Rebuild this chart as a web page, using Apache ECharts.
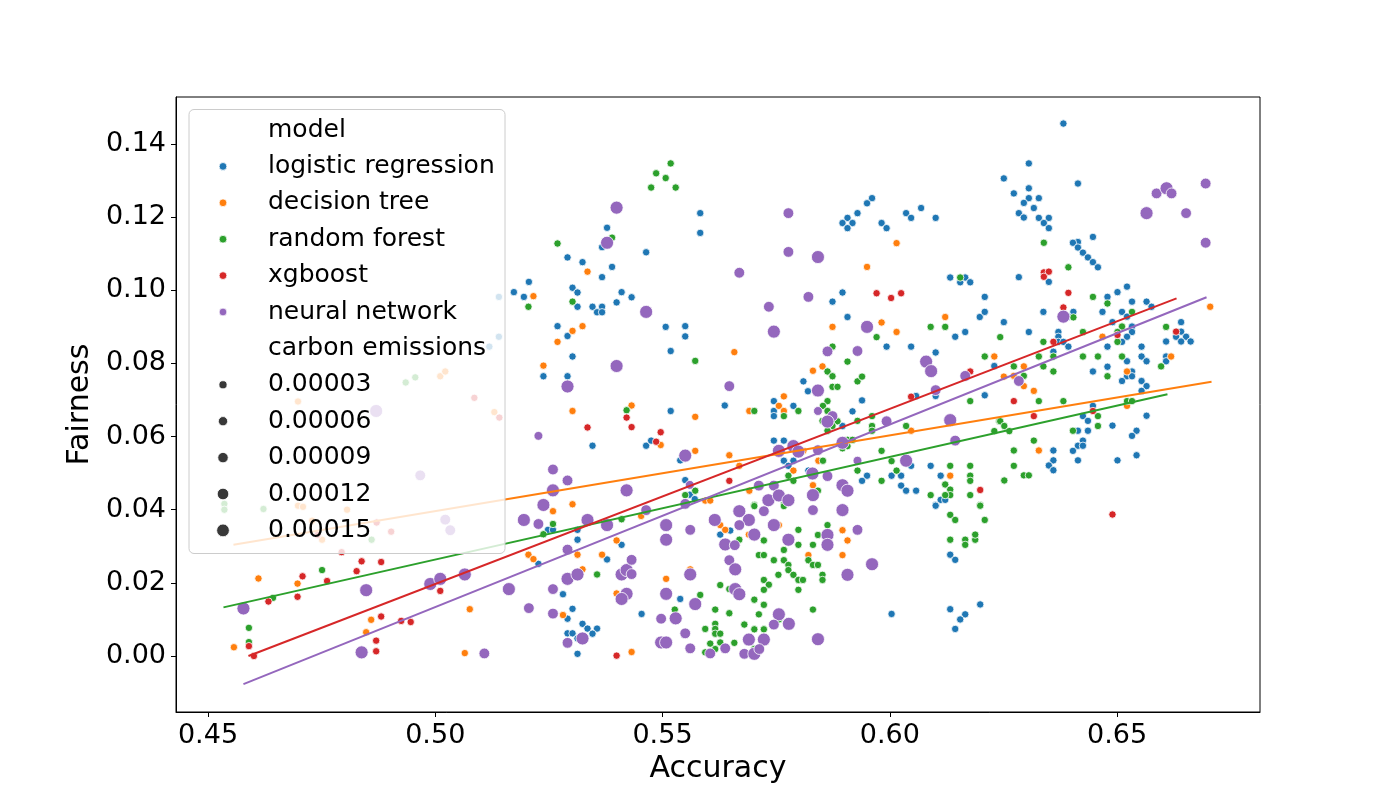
<!DOCTYPE html>
<html>
<head>
<meta charset="utf-8">
<title>Accuracy vs Fairness</title>
<script src="https://cdn.jsdelivr.net/npm/echarts@6/dist/echarts.min.js"></script>
<style>
  html, body { margin: 0; padding: 0; background: #fff; }
  #main { width: 1400px; height: 800px; }
</style>
</head>
<body>
<div id="main"></div>
<script>
// ---- data: [accuracy, fairness] ----
var logisticRegression = [
  [0.5583,0.1211],[0.5583,0.1157],[0.5378,0.1171],[0.5367,0.1118],[0.5464,0.1104],[0.5291,0.1090],[0.5324,0.1077],[0.5389,0.1064],[0.5367,0.1036],[0.5206,0.1023],[0.5140,0.0982],[0.5173,0.0995],[0.5195,0.0982],[0.5302,0.1007],[0.5313,0.0994],[0.5410,0.0995],[0.5432,0.0981],
  [0.5961,0.1252],[0.5950,0.1238],[0.5929,0.1211],[0.5907,0.1198],[0.5896,0.1184],[0.5918,0.1184],[0.5907,0.1170],[0.5982,0.1184],[0.5993,0.1170],[0.6036,0.1211],[0.6047,0.1198],[0.6069,0.1225],[0.6101,0.1198],[0.6133,0.1035],[0.6155,0.1022],[0.6166,0.1035],[0.6177,0.1022],[0.6209,0.0982],[0.5896,0.0994],
  [0.6382,0.1456],[0.6306,0.1347],[0.6251,0.1306],[0.6414,0.1292],[0.6273,0.1265],[0.6306,0.1279],[0.6306,0.1252],[0.6328,0.1252],[0.6295,0.1239],[0.6317,0.1225],[0.6284,0.1211],[0.6295,0.1199],[0.6328,0.1198],[0.6350,0.1198],[0.6339,0.1184],[0.6350,0.1170],[0.6447,0.1146],[0.6414,0.1132],[0.6403,0.1130],[0.6414,0.1117],[0.6425,0.1103],[0.6436,0.1090],[0.6447,0.1077],[0.6458,0.1063],[0.6350,0.1023],[0.6284,0.1036],[0.6479,0.0982],[0.6501,0.0995],[0.6522,0.1010],
  [0.5313,0.0955],[0.5346,0.0955],[0.5367,0.0955],[0.5356,0.0940],[0.5367,0.0940],[0.5399,0.0967],[0.5269,0.0902],[0.5291,0.0875],[0.5302,0.0819],[0.5507,0.0900],[0.5550,0.0902],[0.5550,0.0874],[0.5518,0.0834],[0.5238,0.0765],[0.5291,0.0765],[0.5140,0.0873],[0.5119,0.0846],[0.5518,0.0670],[0.5637,0.0685],[0.5346,0.0575],[0.5464,0.0575],[0.5475,0.0589],[0.5539,0.0535],[0.5550,0.0481],[0.5560,0.0441],[0.5571,0.0429],
  [0.5874,0.0969],[0.5907,0.0927],[0.5993,0.0846],[0.6047,0.0846],[0.6198,0.0927],[0.6209,0.0941],[0.6144,0.0873],[0.6166,0.0886],[0.6101,0.0830],[0.6230,0.0793],[0.5810,0.0751],[0.5820,0.0724],[0.6101,0.0711],[0.6058,0.0711],[0.6209,0.0713],[0.5745,0.0697],[0.5939,0.0699],[0.5745,0.0670],[0.5745,0.0656],[0.5788,0.0684],[0.5896,0.0629],[0.5918,0.0669],[0.5745,0.0589],[0.5767,0.0589],[0.5767,0.0534],[0.5788,0.0534],[0.5777,0.0520],[0.5929,0.0534],[0.6047,0.0520],[0.6090,0.0520],[0.5950,0.0493],[0.5939,0.0479],[0.6004,0.0493],[0.6025,0.0493],[0.6025,0.0466],[0.6036,0.0452],[0.6058,0.0452],[0.6112,0.0493],[0.6112,0.0427],[0.6122,0.0427],[0.6101,0.0413],[0.5821,0.0507],
  [0.6404,0.0941],[0.6393,0.0928],[0.6338,0.0941],[0.6251,0.0913],[0.6306,0.0886],[0.6533,0.0969],[0.6565,0.0969],[0.6576,0.0955],[0.6468,0.0941],[0.6511,0.0941],[0.6522,0.0928],[0.6490,0.0913],[0.6533,0.0901],[0.6533,0.0886],[0.6522,0.0873],[0.6511,0.0859],[0.6371,0.0886],[0.6371,0.0873],[0.6371,0.0859],[0.6382,0.0859],[0.6393,0.0846],[0.6360,0.0832],[0.6479,0.0846],[0.6447,0.0778],[0.6479,0.0791],[0.6522,0.0806],[0.6533,0.0778],[0.6522,0.0765],[0.6533,0.0765],[0.6511,0.0752],[0.6554,0.0846],[0.6554,0.0819],[0.6565,0.0806],[0.6554,0.0752],[0.6565,0.0738],[0.6554,0.0725],[0.6641,0.0913],[0.6641,0.0887],[0.6630,0.0873],[0.6652,0.0873],[0.6641,0.0860],[0.6662,0.0860],[0.6608,0.0860],[0.6608,0.0819],[0.6608,0.0806],[0.6447,0.0684],[0.6425,0.0656],[0.6436,0.0643],[0.6490,0.0630],[0.6436,0.0616],[0.6414,0.0616],[0.6425,0.0589],[0.6414,0.0575],[0.6425,0.0575],[0.6403,0.0561],[0.6414,0.0535],[0.6543,0.0616],[0.6533,0.0602],[0.6565,0.0657],[0.6543,0.0549],[0.6501,0.0535],[0.6360,0.0562],[0.6360,0.0535],[0.6350,0.0521],[0.6360,0.0508],
  [0.5248,0.0345],[0.5259,0.0345],[0.5313,0.0345],[0.5313,0.0318],[0.5410,0.0304],[0.5378,0.0264],[0.5227,0.0252],[0.5281,0.0169],[0.5539,0.0156],[0.5454,0.0115],[0.5302,0.0129],[0.5291,0.0102],[0.5324,0.0088],[0.5335,0.0075],[0.5356,0.0075],[0.5346,0.0061],[0.5291,0.0062],[0.5302,0.0062],[0.5313,0.0048],[0.5313,0.0006],[0.5627,0.0332],
  [0.5649,0.0343],[0.6004,0.0115],[0.6101,0.0411],[0.6133,0.0277],[0.6144,0.0263],[0.6133,0.0128],[0.6166,0.0114],[0.6155,0.0100],[0.6144,0.0074],[0.6199,0.0141]
];

var decisionTree = [
  [0.5335,0.1051],[0.5216,0.0984],[0.6015,0.1129],[0.5950,0.1064],
  [0.5011,0.0765],[0.5022,0.0778],[0.4698,0.0696],
  [0.5302,0.0889],[0.5324,0.0902],[0.5269,0.0859],[0.5238,0.0794],[0.5130,0.0667],[0.5302,0.0670],[0.5432,0.0685],[0.5572,0.0654],[0.5227,0.0602],[0.5496,0.0577],[0.5572,0.0561],[0.5302,0.0415],[0.5594,0.0425],[0.5605,0.0425],
  [0.5874,0.0900],[0.5982,0.0912],[0.6015,0.0886],[0.6122,0.0927],[0.5658,0.0831],[0.6230,0.0819],[0.5831,0.0780],[0.5852,0.0792],[0.5767,0.0710],[0.5691,0.0670],[0.5756,0.0684],[0.5767,0.0670],[0.6047,0.0616],[0.5810,0.0561],[0.5647,0.0549],[0.5669,0.0520],[0.5843,0.0534],[0.6133,0.0493],[0.5788,0.0507],[0.5691,0.0452],[0.5831,0.0467],
  [0.6705,0.0955],[0.6468,0.0873],[0.6295,0.0792],[0.6251,0.0764],[0.6273,0.0766],[0.6295,0.0738],[0.6317,0.0725],[0.6522,0.0778],[0.6619,0.0819],[0.6522,0.0684],[0.6328,0.0562],
  [0.4698,0.0411],[0.4709,0.0408],[0.4806,0.0400],[0.4729,0.0370],[0.4751,0.0318],[0.4611,0.0212],[0.4697,0.0198],[0.4859,0.0099],[0.4848,0.0065],[0.4557,0.0024],
  [0.5259,0.0396],[0.5453,0.0383],[0.5399,0.0316],[0.5313,0.0277],[0.5367,0.0277],[0.5205,0.0277],[0.5216,0.0265],[0.5324,0.0237],[0.5399,0.0171],[0.5508,0.0211],[0.5561,0.0237],[0.5076,0.0128],[0.5281,0.0112],[0.5065,0.0008],[0.5432,0.0011],[0.5627,0.0358],[0.5638,0.0345],
  [0.5756,0.0358],[0.5690,0.0332],[0.5821,0.0276],[0.5896,0.0344],[0.5907,0.0316],[0.5896,0.0276]
];

var randomForest = [
  [0.5518,0.1347],[0.5486,0.1320],[0.5507,0.1307],[0.5475,0.1281],[0.5529,0.1281],[0.5389,0.1144],[0.5269,0.1128],
  [0.6155,0.1035],[0.6339,0.1130],[0.6393,0.1063],[0.6447,0.0982],
  [0.4935,0.0748],[0.4956,0.0762],[0.4536,0.0416],
  [0.5205,0.0955],[0.5302,0.0969],[0.5572,0.0807],[0.5421,0.0672],[0.5560,0.0468],[0.5550,0.0440],[0.5572,0.0452],
  [0.5971,0.0872],[0.6090,0.0900],[0.6122,0.0900],[0.5874,0.0846],[0.5907,0.0805],[0.6209,0.0819],[0.5863,0.0778],[0.5874,0.0765],[0.5874,0.0736],[0.5885,0.0736],[0.5929,0.0751],[0.5939,0.0764],[0.6177,0.0697],[0.5863,0.0697],[0.5702,0.0670],[0.5767,0.0656],[0.5799,0.0670],[0.5842,0.0670],[0.5853,0.0684],[0.5863,0.0670],[0.5852,0.0643],[0.5885,0.0642],[0.5874,0.0629],[0.5863,0.0616],[0.5929,0.0643],[0.5961,0.0656],[0.5961,0.0629],[0.5961,0.0616],[0.6036,0.0629],[0.6230,0.0615],[0.6241,0.0642],[0.5907,0.0591],[0.5918,0.0591],[0.5896,0.0568],[0.5907,0.0574],[0.5853,0.0534],[0.5982,0.0561],[0.6004,0.0533],[0.6133,0.0520],[0.6177,0.0520],[0.5929,0.0507],[0.5982,0.0479],[0.6015,0.0507],[0.6177,0.0493],[0.6122,0.0469],[0.6133,0.0455],[0.6177,0.0479],[0.6133,0.0440],[0.6122,0.0440],[0.6090,0.0440],[0.6177,0.0440],[0.6199,0.0413],[0.5777,0.0493],[0.5788,0.0479],[0.5842,0.0452],[0.5702,0.0413],[0.5767,0.0415],
  [0.6404,0.0926],[0.6243,0.0872],[0.6479,0.0964],[0.6533,0.0941],[0.6511,0.0901],[0.6501,0.0886],[0.6501,0.0859],[0.6425,0.0886],[0.6338,0.0859],[0.6328,0.0819],[0.6360,0.0819],[0.6273,0.0792],[0.6338,0.0792],[0.6360,0.0778],[0.6295,0.0766],[0.6328,0.0697],[0.6382,0.0697],[0.6425,0.0819],[0.6458,0.0819],[0.6479,0.0765],[0.6511,0.0819],[0.6608,0.0900],[0.6597,0.0792],[0.6522,0.0697],[0.6533,0.0697],[0.6458,0.0656],[0.6458,0.0629],[0.6403,0.0616],[0.6317,0.0589],[0.6273,0.0562],[0.6273,0.0520],[0.6295,0.0494],[0.6306,0.0494],[0.6252,0.0480],[0.6243,0.0642],[0.6252,0.0629],[0.6263,0.0615],
  [0.4536,0.0400],[0.4622,0.0402],[0.4860,0.0318],[0.4751,0.0235],[0.4643,0.0159],[0.4590,0.0077],[0.4590,0.0038],
  [0.5259,0.0361],[0.5238,0.0333],[0.5410,0.0374],[0.5356,0.0223],[0.5583,0.0167],[0.5627,0.0194],[0.5527,0.0127],[0.5616,0.0127],[0.5594,0.0074],[0.5616,0.0088],[0.5616,0.0074],[0.5616,0.0061],[0.5627,0.0061],[0.5627,0.0037],[0.5605,0.0034],[0.5594,0.0010],[0.5616,0.0019],
  [0.5702,0.0410],[0.5767,0.0410],[0.5669,0.0318],[0.5647,0.0183],[0.5712,0.0276],[0.5723,0.0276],[0.5723,0.0316],[0.5745,0.0262],[0.5767,0.0290],[0.5767,0.0262],[0.5777,0.0249],[0.5777,0.0235],[0.5799,0.0345],[0.5799,0.0304],[0.5755,0.0222],[0.5788,0.0222],[0.5799,0.0208],[0.5809,0.0208],[0.5799,0.0181],[0.5723,0.0208],[0.5734,0.0195],[0.5723,0.0181],[0.5702,0.0154],[0.5723,0.0140],[0.5647,0.0117],[0.5712,0.0114],[0.5756,0.0100],[0.5680,0.0086],[0.5702,0.0073],[0.5723,0.0073],[0.5658,0.0036],[0.5702,0.0019],[0.5831,0.0127],[0.5821,0.0262],[0.5831,0.0249],[0.5842,0.0249],[0.5831,0.0304],[0.5842,0.0331],[0.5863,0.0358],[0.5852,0.0222],[0.5852,0.0208],[0.6133,0.0386],[0.6144,0.0372],[0.6199,0.0411],[0.6209,0.0372],[0.6133,0.0318],[0.6166,0.0318],[0.6188,0.0318],[0.6166,0.0304],[0.6188,0.0332]
];

var xgboost = [
  [0.5971,0.0992],[0.6003,0.0979],[0.6025,0.0992],[0.6339,0.1049],[0.6350,0.1051],[0.6339,0.1037],[0.6393,0.0993],
  [0.5086,0.0706],[0.5141,0.0652],[0.5421,0.0652],[0.5432,0.0626],[0.5335,0.0625],[0.5486,0.0586],[0.5496,0.0612],
  [0.6177,0.0778],[0.6047,0.0709],[0.6199,0.0454],[0.5647,0.0479],
  [0.6382,0.0953],[0.6501,0.0878],[0.6360,0.0859],[0.6273,0.0697],[0.6317,0.0656],[0.6630,0.0887],[0.6447,0.0670],
  [0.4741,0.0331],[0.4794,0.0284],[0.4871,0.0365],[0.4903,0.0340],[0.5032,0.0340],[0.4838,0.0259],[0.4881,0.0257],[0.4827,0.0232],[0.4762,0.0205],[0.4708,0.0218],[0.4697,0.0162],[0.4633,0.0149],[0.5011,0.0178],[0.4881,0.0108],[0.4925,0.0096],[0.4946,0.0093],[0.4870,0.0042],[0.4590,0.0027],[0.4601,0.0000],[0.4870,0.0013],
  [0.5399,0.0001],[0.6490,0.0387]
];

// neural network: [accuracy, fairness, carbon emissions]
var neuralNetwork = [
  [0.5399,0.1226,0.00016],[0.5378,0.1130,0.00016],
  [0.5777,0.1211,0.0001],[0.5777,0.1105,0.0001],[0.5842,0.1091,0.00016],[0.5669,0.1048,0.0001],[0.5821,0.0982,0.0001],
  [0.6587,0.1265,0.0001],[0.6609,0.1279,0.00016],[0.6620,0.1265,0.0001],[0.6695,0.1292,0.0001],[0.6565,0.1211,0.00016],[0.6652,0.1211,0.0001],[0.6695,0.1130,0.0001],
  [0.4870,0.0670,0.00016],[0.4967,0.0494,0.0001],
  [0.5464,0.0941,0.00016],[0.5399,0.0793,0.00016],[0.5291,0.0737,0.00016],[0.5227,0.0602,0.00005],[0.5550,0.0548,0.00016],[0.5259,0.0510,0.0001],[0.5291,0.0480,0.0001],[0.5259,0.0453,0.00016],[0.5421,0.0453,0.00016],[0.5238,0.0413,0.00016],[0.5560,0.0468,0.00005],[0.5550,0.0416,0.0001],
  [0.5734,0.0955,0.0001],[0.5745,0.0887,0.00016],[0.5950,0.0900,0.00016],[0.5863,0.0833,0.0001],[0.5929,0.0834,0.0001],[0.6080,0.0805,0.00016],[0.6091,0.0779,0.00016],[0.5647,0.0738,0.0001],[0.5842,0.0726,0.00016],[0.6166,0.0766,0.0001],[0.6101,0.0727,0.0001],[0.5842,0.0670,0.00005],[0.5874,0.0656,0.0001],[0.5863,0.0641,0.00016],[0.5993,0.0642,0.0001],[0.6133,0.0645,0.00016],[0.6144,0.0589,0.0001],[0.5896,0.0583,0.00016],[0.5788,0.0574,0.00016],[0.5756,0.0561,0.00016],[0.5799,0.0559,0.00016],[0.5842,0.0563,0.0001],[0.5929,0.0534,0.00005],[0.6036,0.0534,0.00016],[0.5830,0.0499,0.00016],[0.5863,0.0492,0.0001],[0.5712,0.0466,0.0001],[0.5745,0.0466,0.0001],[0.5896,0.0467,0.00016],[0.5907,0.0452,0.00016],[0.5831,0.0440,0.00016],[0.5733,0.0426,0.00016],[0.5756,0.0439,0.00016],[0.5777,0.0426,0.00016],
  [0.6382,0.0928,0.00016],[0.6284,0.0752,0.0001],
  [0.5022,0.0373,0.0001],[0.5033,0.0344,0.0001],[0.4578,0.0130,0.00016],[0.4848,0.0180,0.00016],[0.4989,0.0197,0.00016],[0.5011,0.0211,0.00016],[0.4838,0.0010,0.00016],
  [0.5195,0.0372,0.00016],[0.5227,0.0361,0.0001],[0.5335,0.0372,0.00016],[0.5378,0.0358,0.00016],[0.5464,0.0399,0.0001],[0.5508,0.0358,0.00016],[0.5508,0.0318,0.00016],[0.5561,0.0345,0.0001],[0.5291,0.0291,0.0001],[0.5065,0.0223,0.00016],[0.5291,0.0211,0.00016],[0.5313,0.0223,0.00016],[0.5410,0.0223,0.00016],[0.5421,0.0235,0.00016],[0.5432,0.0263,0.0001],[0.5432,0.0224,0.0001],[0.5162,0.0183,0.00016],[0.5259,0.0183,0.0001],[0.5421,0.0170,0.00016],[0.5410,0.0156,0.00016],[0.5508,0.0170,0.00016],[0.5561,0.0223,0.00016],[0.5572,0.0142,0.00016],[0.5529,0.0103,0.00016],[0.5497,0.0102,0.0001],[0.5206,0.0131,0.0001],[0.5259,0.0116,0.0001],[0.5324,0.0048,0.00016],[0.5291,0.0036,0.0001],[0.5108,0.0007,0.0001],[0.5497,0.0037,0.00016],[0.5508,0.0037,0.00016],[0.5550,0.0062,0.0001],[0.5561,0.0021,0.0001],[0.5605,0.0007,0.0001],[0.5638,0.0021,0.0001],[0.5615,0.0372,0.00016],[0.5638,0.0305,0.00016],
  [0.5669,0.0396,0.00016],[0.5723,0.0396,0.0001],[0.5831,0.0399,0.0001],[0.5896,0.0399,0.00016],[0.5690,0.0372,0.00016],[0.5669,0.0358,0.0001],[0.5745,0.0358,0.00016],[0.5702,0.0332,0.00016],[0.5659,0.0303,0.0001],[0.5647,0.0262,0.0001],[0.5660,0.0237,0.00016],[0.5660,0.0183,0.00016],[0.5669,0.0169,0.00016],[0.5777,0.0318,0.00016],[0.5756,0.0114,0.00016],[0.5745,0.0086,0.0001],[0.5778,0.0088,0.00016],[0.5690,0.0045,0.00016],[0.5723,0.0045,0.00016],[0.5680,0.0006,0.0001],[0.5702,0.0006,0.00016],[0.5713,0.0019,0.0001],[0.5842,0.0046,0.00016],[0.5863,0.0331,0.00016],[0.5863,0.0304,0.00016],[0.5907,0.0222,0.00016],[0.5929,0.0345,0.0001],[0.5961,0.0251,0.00016]
];

// regression lines (end points)
var fitDecisionTree   = [[0.4556, 0.0304], [0.6708, 0.0750]];
var fitRandomForest   = [[0.4534, 0.0133], [0.6611, 0.0716]];
var fitXgboost        = [[0.4589, 0.0000], [0.6631, 0.0978]];
var fitNeuralNetwork  = [[0.4578, -0.0077], [0.6697, 0.0981]];

var modelNames  = ['logistic regression', 'decision tree', 'random forest', 'xgboost', 'neural network'];
var modelColors = ['#1f77b4', '#ff7f0e', '#2ca02c', '#d62728', '#9467bd'];
var emissionTicks = [0.00003, 0.00006, 0.00009, 0.00012, 0.00015];
var otherEmission = 0.00001;   // tree / linear models sit at the small end
var xTicks = [0.45, 0.50, 0.55, 0.60, 0.65];
var yTicks = [0.00, 0.02, 0.04, 0.06, 0.08, 0.10, 0.12, 0.14];

var FONT = 'DejaVu Sans';

// marker diameter from carbon emissions
function emissionSize(e) {
  return 7 + e * 38000;
}

function scatterSeries(name, data, color) {
  return {
    name: name,
    type: 'scatter',
    data: data,
    z: 2,
    symbolSize: function (v) {
      return emissionSize(v.length > 2 ? v[2] : otherEmission);
    },
    itemStyle: { color: color, borderColor: '#ffffff', borderWidth: 0.8, opacity: 1 },
    emphasis: { disabled: true }
  };
}

function fitSeries(name, data, color) {
  return {
    name: name + ' fit',
    type: 'line',
    data: data,
    z: 6,
    symbol: 'none',
    silent: true,
    lineStyle: { color: color, width: 2 }
  };
}

// legend drawn as graphics so it sits over the points like the original
function buildLegend() {
  var left = 189, top = 109.5, w = 316, h = 444;
  var rowY0 = 130, rowStep = 36.4, markX = 223, textX = 268;
  var children = [{
    type: 'rect',
    z: 100,
    shape: { x: left, y: top, width: w, height: h, r: 5 },
    style: { fill: 'rgba(255,255,255,0.8)', stroke: '#cccccc', lineWidth: 1 }
  }];
  var rows = [{ label: 'model' }];
  modelNames.forEach(function (n, i) {
    rows.push({ label: n, color: modelColors[i], size: emissionSize(otherEmission) + 0.4 });
  });
  rows.push({ label: 'carbon emissions' });
  emissionTicks.forEach(function (e) {
    rows.push({ label: e.toFixed(5), color: '#383838', size: emissionSize(e) });
  });
  rows.forEach(function (r, i) {
    var cy = rowY0 + i * rowStep;
    if (r.color) {
      children.push({
        type: 'circle',
        z: 101,
        shape: { cx: markX, cy: cy, r: r.size / 2 },
        style: { fill: r.color, stroke: '#ffffff', lineWidth: 0.8 }
      });
    }
    children.push({
      type: 'text',
      z: 101,
      x: textX, y: cy,
      style: { text: r.label, font: '25px "' + FONT + '"', fill: '#000', verticalAlign: 'middle', align: 'left' }
    });
  });
  return children;
}

var chart = echarts.init(document.getElementById('main'));

var option = {
  backgroundColor: '#ffffff',
  animation: false,
  textStyle: { fontFamily: FONT },
  grid: {
    left: 176, right: 140, top: 97, bottom: 88,
    show: true, borderColor: '#000', borderWidth: 1, backgroundColor: '#fff'
  },
  xAxis: {
    type: 'value',
    min: 0.44296, max: 0.68146,
    name: 'Accuracy',
    nameLocation: 'middle',
    nameGap: 40,
    nameTextStyle: { fontSize: 30, color: '#000', fontFamily: FONT },
    axisLine: { show: true, onZero: false, lineStyle: { color: '#000', width: 1 } },
    axisTick: { show: true, length: 5, lineStyle: { color: '#000', width: 1 }, customValues: xTicks },
    axisLabel: {
      fontSize: 27, color: '#000', margin: 10, fontFamily: FONT,
      customValues: xTicks,
      formatter: function (v) { return v.toFixed(2); }
    },
    splitLine: { show: false }
  },
  yAxis: {
    type: 'value',
    min: -0.01531, max: 0.15286,
    name: 'Fairness',
    nameLocation: 'middle',
    nameGap: 72,
    nameTextStyle: { fontSize: 30, color: '#000', fontFamily: FONT },
    axisLine: { show: true, onZero: false, lineStyle: { color: '#000', width: 1 } },
    axisTick: { show: true, length: 5, lineStyle: { color: '#000', width: 1 }, customValues: yTicks },
    axisLabel: {
      fontSize: 27, color: '#000', margin: 10, fontFamily: FONT,
      customValues: yTicks,
      formatter: function (v) { return v.toFixed(2); }
    },
    splitLine: { show: false }
  },
  series: [
    scatterSeries(modelNames[0], logisticRegression, modelColors[0]),
    scatterSeries(modelNames[1], decisionTree, modelColors[1]),
    scatterSeries(modelNames[2], randomForest, modelColors[2]),
    scatterSeries(modelNames[3], xgboost, modelColors[3]),
    scatterSeries(modelNames[4], neuralNetwork, modelColors[4]),
    fitSeries(modelNames[1], fitDecisionTree, modelColors[1]),
    fitSeries(modelNames[2], fitRandomForest, modelColors[2]),
    fitSeries(modelNames[3], fitXgboost, modelColors[3]),
    fitSeries(modelNames[4], fitNeuralNetwork, modelColors[4])
  ],
  graphic: buildLegend()
};

chart.setOption(option);
</script>
</body>
</html>
